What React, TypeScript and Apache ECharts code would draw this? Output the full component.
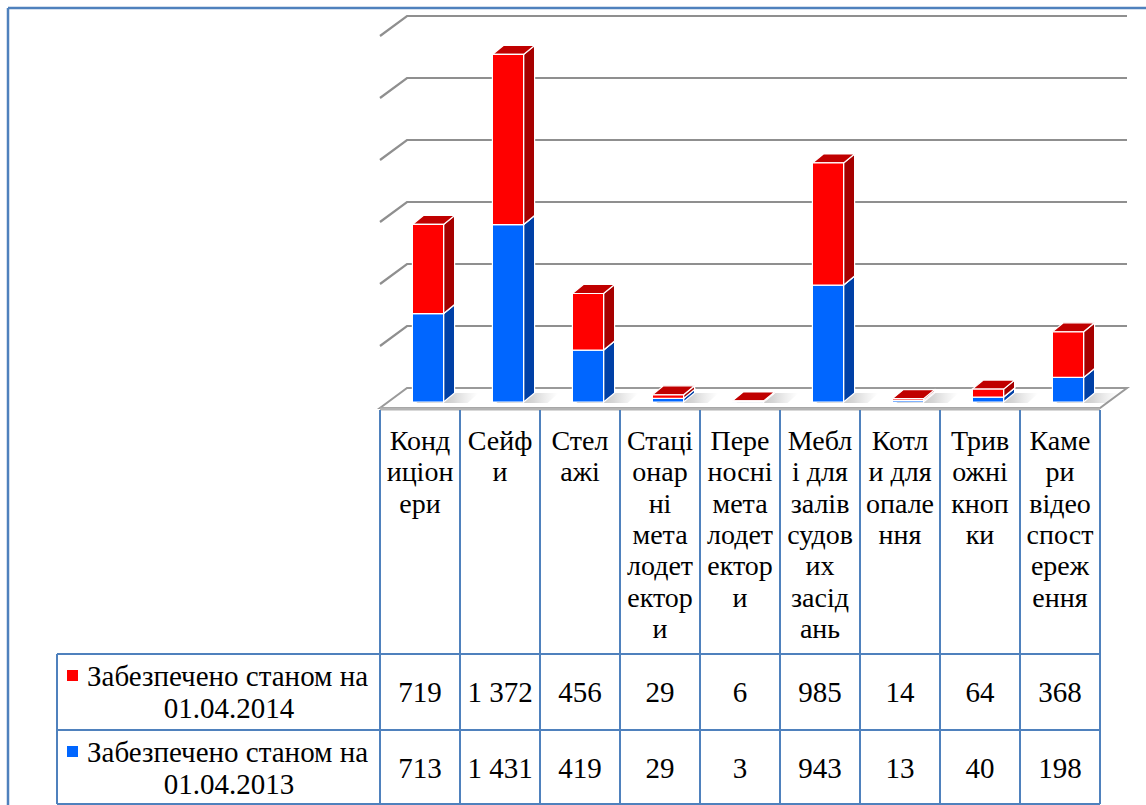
import React, { useEffect, useRef } from "react";
import * as echarts from "echarts";

const categories = [
  "Кондиціонери",
  "Сейфи",
  "Стелажі",
  "Стаціонарні металодетектори",
  "Переносні металодетектори",
  "Меблі для залів судових засідань",
  "Котли для опалення",
  "Тривожні кнопки",
  "Камери відеоспостереження",
];
const categoryLabels = [
  "Конд\nиціон\nери",
  "Сейф\nи",
  "Стел\nажі",
  "Стаці\nонар\nні\nмета\nлодет\nектор\nи",
  "Пере\nносні\nмета\nлодет\nектор\nи",
  "Мебл\nі для\nзалів\nсудов\nих\nзасід\nань",
  "Котл\nи для\nопале\nння",
  "Трив\nожні\nкноп\nки",
  "Каме\nри\nвідео\nспост\nереж\nення",
];
const seriesNames = ["Забезпечено станом на 01.04.2014", "Забезпечено станом на 01.04.2013"];
const values2014 = [719, 1372, 456, 29, 6, 985, 14, 64, 368];
const values2013 = [713, 1431, 419, 29, 3, 943, 13, 40, 198];
const gridTicks = [0, 500, 1000, 1500, 2000, 2500, 3000];

const PLOT = { left: 388, top: 30, width: 720, height: 372 };
const FRONT = { dx: -8, dy: 6 };
const BACK = { dx: 19, dy: -14 };
const BAR = { dx: 11, dy: -9, widthFrac: 0.39 };
const COL0 = 380;
const COLW = 80;
const HEAD_TOP = 410;
const ROW_TOPS = [654, 730];
const ROW_H = 76;
const LEG_LEFT = 57;
const LINE = "#4F81BD";
const FAMILY = "Liberation Serif";

const RED = { front: "#FF0000", side: "#A60000", top: "#C00000" };
const BLUE = { front: "#0066FF", side: "#0040A6", top: "#0050D0" };

function fmt(v: number): string {
  return String(v).replace(/\B(?=(\d{3})+(?!\d))/g, " ");
}

function makeBarRenderer(colors: { front: string; side: string; top: string }, shadow: boolean) {
  return (params: any, api: any) => {
    const ci = api.value(0);
    const lo = api.value(1);
    const hi = api.value(2);
    const p0 = api.coord([ci, lo]);
    const p1 = api.coord([ci, hi]);
    const bw = api.size([1, 0])[0] * BAR.widthFrac;
    const x0 = p0[0] - bw / 2;
    const x1 = p0[0] + bw / 2;
    const yb = p0[1];
    const yt = p1[1];
    const { dx, dy } = BAR;
    const stroke = { stroke: "#ffffff", lineWidth: 1.2 };
    const children: any[] = [];
    if (shadow) {
      children.push({
        type: "polygon",
        shape: {
          points: [
            [x0 + 4, yb + 1],
            [x1 + 24, yb + 1],
            [x1 + dx + 24, yb + dy],
            [x0 + dx + 4, yb + dy],
          ],
        },
        style: {
          fill: new echarts.graphic.LinearGradient(0, 0, 1, 0, [
            { offset: 0, color: "rgba(90,90,90,0.55)" },
            { offset: 0.6, color: "rgba(120,120,120,0.3)" },
            { offset: 1, color: "rgba(160,160,160,0)" },
          ]),
        },
      });
    }
    children.push(
      {
        type: "polygon",
        shape: { points: [[x1, yb], [x1 + dx, yb + dy], [x1 + dx, yt + dy], [x1, yt]] },
        style: { fill: colors.side, ...stroke },
      },
      {
        type: "polygon",
        shape: { points: [[x0, yt], [x1, yt], [x1 + dx, yt + dy], [x0 + dx, yt + dy]] },
        style: { fill: colors.top, ...stroke },
      },
      {
        type: "rect",
        shape: { x: x0, y: yt, width: bw, height: Math.max(yb - yt, 0.5) },
        style: { fill: colors.front, ...stroke },
      }
    );
    return { type: "group", children };
  };
}

function renderWall(params: any, api: any) {
  const v = api.value(1);
  const cs = params.coordSys;
  const y = api.coord([0, v])[1];
  const fl = [cs.x + FRONT.dx, y + FRONT.dy];
  const bl = [cs.x + BACK.dx, y + BACK.dy];
  const br = [cs.x + cs.width + BACK.dx, y + BACK.dy];
  const fr = [cs.x + cs.width + FRONT.dx, y + FRONT.dy];
  if (v === 0) {
    return {
      type: "group",
      children: [
        {
          type: "polygon",
          shape: { points: [fl, fr, br, bl] },
          style: { fill: "#ffffff", stroke: "#9a9a9a", lineWidth: 2 },
        },
        {
          type: "line",
          shape: { x1: fl[0], y1: fl[1] + 1, x2: fr[0], y2: fr[1] + 1 },
          style: { stroke: "#b4b4b4", lineWidth: 3 },
        },
      ],
    };
  }
  return {
    type: "polyline",
    shape: { points: [fl, bl, br] },
    style: { stroke: "#8f8f8f", lineWidth: 2.2, fill: "none" },
  };
}

function textEl(x: number, y: number, text: string, size: number, align: string, valign: string, lineHeight?: number) {
  const style: any = { text, fill: "#000", fontSize: size, fontFamily: FAMILY, align, verticalAlign: valign };
  if (lineHeight) style.lineHeight = lineHeight;
  return { type: "text", x, y, style };
}

function buildTable(): any[] {
  const els: any[] = [];
  const bottom = ROW_TOPS[1] + ROW_H - 2;
  const ncol = categories.length;
  els.push({ type: "line", shape: { x1: 8, y1: 8, x2: 1146, y2: 8 }, style: { stroke: LINE, lineWidth: 2.5 } });
  els.push({ type: "line", shape: { x1: 8, y1: 8, x2: 8, y2: 805 }, style: { stroke: LINE, lineWidth: 2.5 } });
  for (let i = 0; i <= ncol; i++) {
    const x = COL0 + i * COLW;
    els.push({ type: "line", shape: { x1: x, y1: HEAD_TOP, x2: x, y2: bottom }, style: { stroke: LINE, lineWidth: 2 } });
  }
  els.push({ type: "line", shape: { x1: LEG_LEFT, y1: ROW_TOPS[0], x2: LEG_LEFT, y2: bottom }, style: { stroke: LINE, lineWidth: 2 } });
  [ROW_TOPS[0], ROW_TOPS[1], bottom].forEach((y) => {
    els.push({ type: "line", shape: { x1: LEG_LEFT, y1: y, x2: COL0 + ncol * COLW, y2: y }, style: { stroke: LINE, lineWidth: 2 } });
  });
  categoryLabels.forEach((lab, i) => {
    els.push(textEl(COL0 + i * COLW + COLW / 2, 425, lab, 28, "center", "top", 31.3));
  });
  const rows = [
    { name: seriesNames[0], color: RED.front, values: values2014 },
    { name: seriesNames[1], color: BLUE.front, values: values2013 },
  ];
  rows.forEach((row, r) => {
    const top = ROW_TOPS[r];
    const cut = row.name.lastIndexOf(" ");
    const l1 = row.name.slice(0, cut);
    const l2 = row.name.slice(cut + 1);
    const c1 = top + 22;
    const c2 = top + 54;
    els.push({ type: "rect", shape: { x: 67, y: c1 - 6, width: 11, height: 11 }, style: { fill: row.color } });
    els.push(textEl(87, c1, l1, 29, "left", "middle"));
    els.push(textEl(229, c2, l2, 29, "center", "middle"));
    row.values.forEach((v, i) => {
      els.push(textEl(COL0 + i * COLW + COLW / 2, top + 38, fmt(v), 29, "center", "middle"));
    });
  });
  return els;
}

export default function App() {
  const ref = useRef<HTMLDivElement>(null);
  const ref2 = useRef<HTMLDivElement>(null);
  useEffect(() => {
    if (!ref.current || !ref2.current) return;
    const chart = echarts.init(ref.current, null, { renderer: "svg" });
    const table = echarts.init(ref2.current, null, { renderer: "svg" });
    const blueData = categories.map((_, i) => [i, 0, values2013[i]]);
    const redData = categories.map((_, i) => [i, values2013[i], values2013[i] + values2014[i]]);
    chart.setOption({
      animation: false,
      grid: { left: PLOT.left, top: PLOT.top, width: PLOT.width, height: PLOT.height },
      xAxis: { type: "category", data: categories, show: false },
      yAxis: { type: "value", min: 0, max: 3000, interval: 500, show: false, splitLine: { show: false } },
      series: [
        {
          type: "custom",
          name: "wall",
          z: 1,
          silent: true,
          data: gridTicks.map((v) => [0, v]),
          encode: { x: 0, y: 1 },
          renderItem: renderWall,
        },
        {
          type: "custom",
          name: seriesNames[1],
          z: 3,
          data: blueData,
          encode: { x: 0, y: [1, 2] },
          renderItem: makeBarRenderer(BLUE, true),
        },
        {
          type: "custom",
          name: seriesNames[0],
          z: 4,
          data: redData,
          encode: { x: 0, y: [1, 2] },
          renderItem: makeBarRenderer(RED, false),
        },
      ],
    });
    table.setOption({
      animation: false,
      graphic: { elements: buildTable() },
    });
    return () => {
      chart.dispose();
      table.dispose();
    };
  }, []);
  return (
    <div style={{ position: "fixed", left: 0, top: 0, width: 1146, height: 805, background: "#fff" }}>
      <div ref={ref} style={{ position: "absolute", left: 0, top: 0, width: 1146, height: 805 }} />
      <div
        ref={ref2}
        style={{ position: "absolute", left: 0, top: 0, width: 1146, height: 805, pointerEvents: "none" }}
      />
    </div>
  );
}
